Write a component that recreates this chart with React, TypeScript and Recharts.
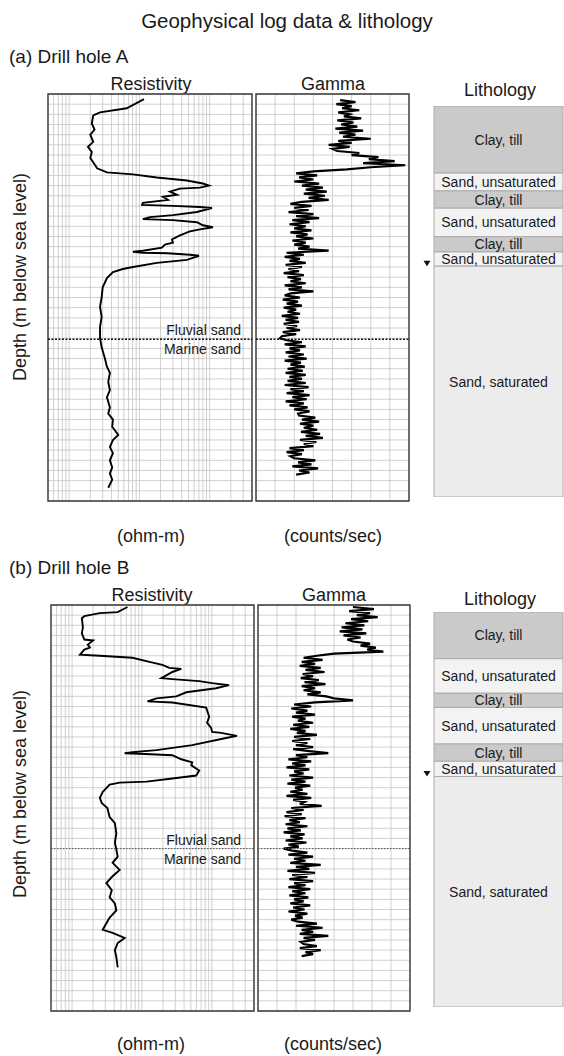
import React from "react";
import {
	Bar,
	BarChart,
	CartesianGrid,
	LabelList,
	Line,
	LineChart,
	ReferenceArea,
	ReferenceDot,
	ReferenceLine,
	XAxis,
	YAxis,
} from "recharts";

const FONT = '"Liberation Sans", Arial, Helvetica, sans-serif';
const INK = "#1a1a1a";

// depth grid: one line per metre, 0–40 m
const DEPTH_DOMAIN: [number, number] = [0, 40];
const DEPTH_TICKS = [
	0, 1, 2, 3, 4, 5, 6, 7, 8, 9, 10, 11, 12, 13, 14, 15, 16, 17, 18, 19, 20, 21, 22, 23, 24, 25, 26, 27,
	28, 29, 30, 31, 32, 33, 34, 35, 36, 37, 38, 39, 40,
];

// resistivity (log axis, ohm-m)
const RES_DOMAIN: [number, number] = [5, 4000];
const RES_TICKS = [
	5, 6, 7, 8, 9, 10, 20, 30, 40, 50, 60, 70, 80, 90, 100, 200, 300, 400, 500, 600, 700, 800, 900, 1000,
	2000, 3000, 4000,
];

// gamma (linear axis, counts/sec)
const GAMMA_DOMAIN: [number, number] = [0, 160];
const GAMMA_TICKS = [0, 20, 40, 60, 80, 100, 120, 140, 160];

// ---- drill hole A ----
const RES_A_DEPTH = [
	0.5, 1.4, 1.8, 2.1, 2.9, 3.5, 4.0, 4.7, 5.2, 5.7, 6.3, 6.7, 7.3, 7.7, 7.9, 8.2, 8.5, 8.8, 9.0, 9.2, 9.3,
	9.6, 9.9, 10.1, 10.4, 10.7, 10.9, 11.0, 11.1, 11.2, 11.6, 11.9, 12.1, 12.3, 12.4, 12.6, 12.9, 13.1, 13.3,
	13.5, 13.9, 14.3, 14.6, 14.8, 15.1, 15.4, 15.5, 15.6, 15.65, 15.8, 15.9, 16.3, 16.6, 17.0, 17.2, 17.5,
	18.1, 19.0, 20.0, 20.9, 21.9, 22.9, 24.0, 24.9, 25.9, 26.8, 27.4, 28.3, 29.1, 29.8, 30.8, 31.4, 32.0,
	32.7, 33.5, 34.0, 34.7, 35.3, 36.0, 36.7, 37.3, 37.9, 38.7,
];
const RES_A_VALUE = [
	116, 66, 27.5, 22, 21, 23, 20, 22, 18.5, 21, 20, 22, 25, 34.5, 81, 177, 474, 800, 975, 726, 377, 272,
	342, 216, 255, 112, 109, 300, 726, 1077, 658, 300, 141, 112, 300, 658, 800, 1112, 726, 523, 377, 290,
	300, 231, 209, 112, 81, 112, 250, 523, 703, 474, 177, 81, 58, 42, 34.5, 30, 29, 27.5, 29, 27.5, 27.5,
	29, 32, 34.5, 38, 36, 38, 34.5, 38, 36, 42, 41, 50, 42, 38, 42, 38, 41, 38, 41, 36,
];
const GAMMA_A_TOP = 0.6;
const GAMMA_STEP = 0.2;
const GAMMA_A = [
	88, 104, 84, 100, 90, 108, 86, 98, 92, 110, 85, 102, 89, 106, 83, 112, 87, 104, 91, 120, 86, 100,
	76, 98, 80,
	85, 108, 100, 128, 118,
	145, 112, 156, 120,
	95, 60,
	42, 64, 45, 60, 40, 66, 48, 70, 52, 74, 50, 72, 55, 76, 48,
	36, 58, 40, 55, 34, 60, 42, 66, 38, 56, 35, 52, 40, 58, 36, 54, 42, 60, 38, 52, 40, 56,
	44, 76,
	32, 50, 30, 46, 35, 52, 31, 48, 34, 45, 29, 50, 33, 47, 36, 52, 30, 48, 34, 60, 36,
	30, 46, 28, 44, 32, 48, 29, 42, 33, 46, 27, 44, 31, 45, 29, 43, 32, 46, 28, 42, 27,
	25,
	32, 48, 30, 52, 35, 46, 31, 50, 34, 53, 30, 47, 36, 51, 33, 49, 31, 52, 35, 48,
	33, 52, 30, 55, 36, 50, 32, 56, 38, 53, 31, 50, 35, 54, 40, 56, 44,
	45, 62, 48, 66, 46, 60, 50, 64, 47, 67, 52, 70, 46, 63, 50, 60,
	35, 50, 32, 48, 36,
	40, 62, 44, 58, 38, 65, 45, 56, 42,
];
const BOUNDARY_A = 24.1;

// ---- drill hole B ----
const RES_B_DEPTH = [
	0.2, 0.7, 0.8, 1.1, 1.3, 2.2, 2.8, 3.4, 3.5, 3.9, 4.2, 4.4, 4.9, 5.0, 5.2, 5.6, 5.9, 6.2, 6.3, 6.6, 7.2,
	7.3, 7.5, 7.7, 7.9, 8.2, 8.6, 9.0, 9.2, 9.5, 9.6, 10.1, 11.0, 11.6, 12.1, 12.5, 12.6, 12.9, 13.1, 13.8,
	14.3, 14.5, 14.6, 14.65, 14.8, 15.2, 15.5, 15.8, 16.3, 16.8, 17.1, 17.4, 17.5, 17.7, 18.4, 19.0, 19.5,
	20.0, 20.9, 21.5, 22.5, 23.4, 24.1, 24.8, 25.4, 26.1, 26.8, 27.4, 28.1, 28.8, 29.4, 30.1, 30.8, 31.7,
	32.0, 32.3, 32.8, 33.3, 34.0, 34.7, 35.7,
];
const RES_B_VALUE = [
	62, 45, 25, 15, 13.8, 14.3, 13.8, 15, 20, 16.8, 18, 15, 13, 25, 73, 128, 196, 246, 365, 272, 190, 272,
	658, 1007, 1757, 1148, 430, 310, 161, 120, 272, 828, 914, 855, 975, 1007, 1352, 2286, 1595, 523, 161,
	73, 56.5, 92, 272, 365, 523, 507, 658, 597, 272, 116, 48, 34.5, 27.5, 25, 26.5, 32, 34.5, 41, 43, 41,
	43, 45, 38, 48, 37, 31, 37, 34.5, 41, 43, 34.5, 29, 27.5, 38, 56.5, 45, 41, 43, 45,
];
const GAMMA_B_TOP = 0.2;
const GAMMA_B = [
	100, 122, 96, 118, 104, 126, 98, 116, 92, 112, 88, 110, 86, 114, 90, 108, 94,
	100, 118, 108, 124, 115, 132,
	80,
	62, 48, 68, 46, 60, 44, 66, 50, 70, 47, 58, 45, 64, 49, 71, 46, 60, 48, 66, 52, 72,
	80, 100, 60,
	38, 56, 35, 52, 40, 60, 36, 50, 42, 58, 37, 54, 34, 50, 41, 62, 38, 55, 36, 52, 40, 58, 37, 54,
	74,
	40, 52, 32, 56, 36, 50, 30, 54, 38, 48, 33, 58, 35, 50, 31, 55, 39, 47, 34, 52, 30, 56, 37, 49, 44,
	67,
	35, 48, 30, 46, 28, 50, 33, 44, 29, 52, 31, 45, 27, 49, 34, 47, 29, 51, 32, 43, 27,
	36, 52, 32, 58, 38, 50, 34, 66, 40, 54, 31, 60, 36, 52, 33, 58, 38, 50, 32, 55,
	36, 50, 33, 53, 38, 48, 34, 55, 37, 49, 32, 52, 39, 47, 35,
	42, 62, 40, 68, 46, 58, 44, 74, 48, 60, 45,
	48, 62, 44, 66, 50, 58, 46,
];
const BOUNDARY_B = 24.0;

// ---- lithology (layer thickness in m, top to bottom) ----
const LITH_NAMES = [
	"Clay, till",
	"Sand, unsaturated",
	"Clay, till",
	"Sand, unsaturated",
	"Clay, till",
	"Sand, unsaturated",
	"Sand, saturated",
];
const LITH_KIND = ["clay", "dry", "clay", "dry", "clay", "dry", "wet"];
const LITH_A = [6.6, 1.75, 1.7, 2.8, 1.5, 1.4, 22.7];
const LITH_B = [4.6, 3.4, 1.4, 3.6, 1.7, 1.5, 22.7];
const LITH_FILL: Record<string, string> = { clay: "#cacaca", dry: "#f3f3f3", wet: "#ececec" };

const BOUNDARY_ABOVE = "Fluvial sand";
const BOUNDARY_BELOW = "Marine sand";

const resA = RES_A_DEPTH.map((depth, i) => ({ depth, res: RES_A_VALUE[i] }));
const resB = RES_B_DEPTH.map((depth, i) => ({ depth, res: RES_B_VALUE[i] }));
const gamA = GAMMA_A.map((gamma, i) => ({ depth: +(GAMMA_A_TOP + i * GAMMA_STEP).toFixed(2), gamma }));
const gamB = GAMMA_B.map((gamma, i) => ({ depth: +(GAMMA_B_TOP + i * GAMMA_STEP).toFixed(2), gamma }));

function boundaryLabel(inset: number) {
	return (p: any) => {
		const vb = p && p.viewBox;
		if (!vb || vb.x == null) return null;
		const right = vb.x + vb.width - inset;
		return (
			<g fontFamily={FONT} fontSize={14} fill={INK}>
				<text x={right} y={vb.y - 4} textAnchor="end">
					{BOUNDARY_ABOVE}
				</text>
				<text x={right} y={vb.y + 15} textAnchor="end">
					{BOUNDARY_BELOW}
				</text>
			</g>
		);
	};
}

interface TrackProps {
	left: number;
	top: number;
	width: number;
	height: number;
	data: { depth: number; [k: string]: number }[];
	valueKey: string;
	scale: "log" | "linear";
	domain: [number, number];
	ticks: number[];
	lineWidth: number;
	boundary: number;
	dash: string;
	dashColor: string;
	dashWidth: number;
	labelInset?: number;
}

function LogTrack(props: TrackProps) {
	const { left, top, width, height, data, valueKey, scale, domain, ticks, lineWidth } = props;
	return (
		<div style={{ position: "absolute", left: left - 2, top: top - 2 }}>
			<LineChart
				layout="vertical"
				width={width + 4}
				height={height + 4}
				data={data}
				margin={{ top: 2, right: 2, bottom: 2, left: 2 }}
			>
				<CartesianGrid stroke="#c4c4c4" strokeWidth={0.8} />
				<XAxis
					type="number"
					scale={scale}
					domain={domain}
					ticks={ticks}
					interval={0}
					allowDataOverflow
					hide
				/>
				<YAxis
					type="number"
					dataKey="depth"
					domain={DEPTH_DOMAIN}
					ticks={DEPTH_TICKS}
					interval={0}
					allowDataOverflow
					hide
				/>
				<Line
					dataKey={valueKey}
					type="linear"
					stroke="#000"
					strokeWidth={lineWidth}
					dot={false}
					activeDot={false}
					isAnimationActive={false}
				/>
				<ReferenceLine
					y={props.boundary}
					stroke={props.dashColor}
					strokeWidth={props.dashWidth}
					strokeDasharray={props.dash}
					label={props.labelInset != null ? { content: boundaryLabel(props.labelInset) } : undefined}
				/>
				<ReferenceArea
					x1={domain[0]}
					x2={domain[1]}
					y1={DEPTH_DOMAIN[0]}
					y2={DEPTH_DOMAIN[1]}
					fill="none"
					fillOpacity={0}
					stroke="#3a3a3a"
					strokeWidth={1.4}
					ifOverflow="visible"
				/>
			</LineChart>
		</div>
	);
}

function WaterTable({ cx, cy }: { cx: number; cy: number }) {
	return <polygon points={`${cx - 3.5},${cy - 5.5} ${cx + 3.5},${cy - 5.5} ${cx},${cy}`} fill="#111" />;
}

function LithologyColumn({ left, top, width, height, thickness }: {
	left: number;
	top: number;
	width: number;
	height: number;
	thickness: number[];
}) {
	const total = thickness.reduce((a, b) => a + b, 0);
	const row: Record<string, string | number> = { hole: "h" };
	thickness.forEach((t, i) => {
		row[`l${i}`] = t;
	});
	const waterTable = thickness.slice(0, 6).reduce((a, b) => a + b, 0);
	return (
		<div style={{ position: "absolute", left: left - 14, top: top - 1 }}>
			<BarChart
				width={width + 15}
				height={height + 2}
				data={[row]}
				margin={{ top: 1, right: 1, bottom: 1, left: 14 }}
				barCategoryGap={0}
				barGap={0}
			>
				<XAxis dataKey="hole" type="category" hide />
				<YAxis type="number" domain={[0, total]} reversed allowDataOverflow hide />
				{thickness.map((_, i) => (
					<Bar
						key={i}
						dataKey={`l${i}`}
						stackId="lith"
						fill={LITH_FILL[LITH_KIND[i]]}
						stroke="#ababab"
						strokeWidth={1}
						isAnimationActive={false}
					>
						<LabelList
							dataKey={`l${i}`}
							position="center"
							formatter={() => LITH_NAMES[i]}
							fill={INK}
							fontSize={14}
							fontFamily={FONT}
						/>
					</Bar>
				))}
				<ReferenceDot
					x="h"
					y={waterTable}
					ifOverflow="visible"
					shape={(p: any) => <WaterTable cx={p.cx - width / 2 - 7} cy={p.cy} />}
				/>
			</BarChart>
		</div>
	);
}

function Texts() {
	const t = { fontFamily: FONT, fill: INK };
	return (
		<svg width={564} height={1056} style={{ position: "absolute", left: 0, top: 0 }}>
			<text x={287} y={28} textAnchor="middle" fontSize={20.5} {...t}>
				Geophysical log data &amp; lithology
			</text>

			<text x={9} y={63} fontSize={19} {...t}>
				(a) Drill hole A
			</text>
			<text x={151} y={90} textAnchor="middle" fontSize={18} {...t}>Resistivity</text>
			<text x={333} y={90} textAnchor="middle" fontSize={18} {...t}>Gamma</text>
			<text x={500} y={96} textAnchor="middle" fontSize={18} {...t}>Lithology</text>
			<text x={151} y={542} textAnchor="middle" fontSize={18} {...t}>(ohm-m)</text>
			<text x={333} y={542} textAnchor="middle" fontSize={18} {...t}>(counts/sec)</text>
			<text
				transform="translate(25.5 277) rotate(-90)"
				textAnchor="middle"
				fontSize={18}
				{...t}
			>
				Depth (m below sea level)
			</text>

			<text x={9} y={574} fontSize={19} {...t}>
				(b) Drill hole B
			</text>
			<text x={152} y={601} textAnchor="middle" fontSize={18} {...t}>Resistivity</text>
			<text x={334} y={601} textAnchor="middle" fontSize={18} {...t}>Gamma</text>
			<text x={500} y={605} textAnchor="middle" fontSize={18} {...t}>Lithology</text>
			<text x={151} y={1050} textAnchor="middle" fontSize={18} {...t}>(ohm-m)</text>
			<text x={333} y={1050} textAnchor="middle" fontSize={18} {...t}>(counts/sec)</text>
			<text
				transform="translate(25.5 794) rotate(-90)"
				textAnchor="middle"
				fontSize={18}
				{...t}
			>
				Depth (m below sea level)
			</text>
		</svg>
	);
}

export default function App() {
	return (
		<div
			style={{
				position: "absolute",
				left: 0,
				top: 0,
				width: 564,
				height: 1056,
				background: "#fff",
				fontFamily: FONT,
				overflow: "hidden",
			}}
		>
			<Texts />

			<LogTrack
				left={48}
				top={94}
				width={204}
				height={407}
				data={resA}
				valueKey="res"
				scale="log"
				domain={RES_DOMAIN}
				ticks={RES_TICKS}
				lineWidth={1.9}
				boundary={BOUNDARY_A}
				dash="2 1.5"
				dashColor="#111"
				dashWidth={1.6}
				labelInset={11}
			/>
			<LogTrack
				left={256}
				top={94}
				width={153}
				height={407}
				data={gamA}
				valueKey="gamma"
				scale="linear"
				domain={GAMMA_DOMAIN}
				ticks={GAMMA_TICKS}
				lineWidth={2.2}
				boundary={BOUNDARY_A}
				dash="2 1.5"
				dashColor="#111"
				dashWidth={1.6}
			/>
			<LithologyColumn left={434} top={106} width={129} height={391} thickness={LITH_A} />

			<LogTrack
				left={51}
				top={605}
				width={203}
				height={406}
				data={resB}
				valueKey="res"
				scale="log"
				domain={RES_DOMAIN}
				ticks={RES_TICKS}
				lineWidth={1.9}
				boundary={BOUNDARY_B}
				dash="1.5 1.5"
				dashColor="#555"
				dashWidth={1}
				labelInset={13}
			/>
			<LogTrack
				left={258}
				top={605}
				width={152}
				height={406}
				data={gamB}
				valueKey="gamma"
				scale="linear"
				domain={GAMMA_DOMAIN}
				ticks={GAMMA_TICKS}
				lineWidth={2.2}
				boundary={BOUNDARY_B}
				dash="1.5 1.5"
				dashColor="#555"
				dashWidth={1}
			/>
			<LithologyColumn left={434} top={612} width={129} height={395} thickness={LITH_B} />
		</div>
	);
}
